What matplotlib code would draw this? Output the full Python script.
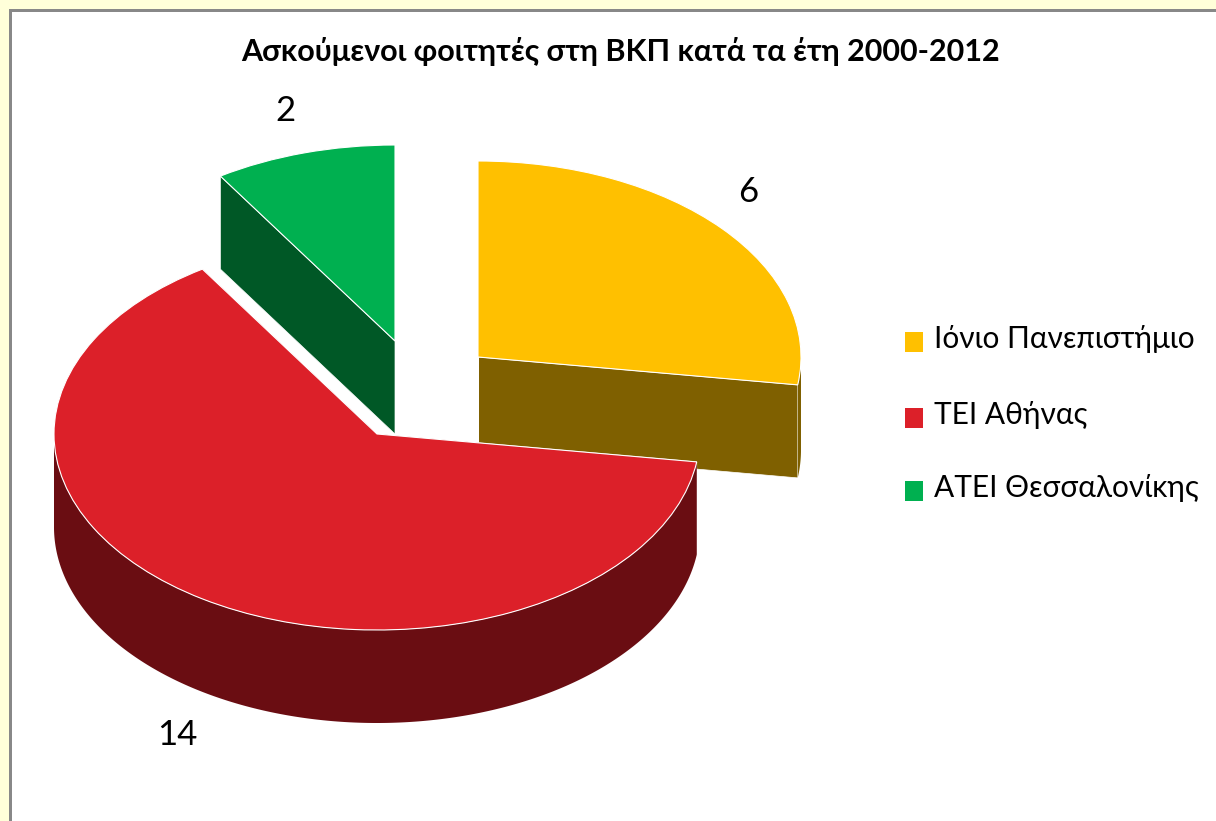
import numpy as np
import matplotlib
matplotlib.use('Agg')
import matplotlib.pyplot as plt
from matplotlib.patches import Rectangle, Polygon

title = 'Ασκούμενοι φοιτητές στη ΒΚΠ κατά τα έτη 2000-2012'
labels = ['Ιόνιο Πανεπιστήμιο', 'ΤΕΙ Αθήνας', 'ΑΤΕΙ Θεσσαλονίκης']
values = [6, 14, 2]
top_colors = ['#FFC000', '#DC2029', '#00B050']
side_colors = ['#7F6000', '#6A0D12', '#005826']

W, H = 1216, 821
RX, RY, DEPTH = 323, 196, 93
# slice centres in pixels, each slice is pulled out by its own amount
centers = [(478, 357), (377, 434), (395, 341)]
label_pos = [(748, 192), (177, 735), (285, 111)]

plt.rcParams['font.family'] = ['Lato', 'Open Sans', 'DejaVu Sans']

fig = plt.figure(figsize=(W / 100, H / 100), dpi=100, facecolor='#FFFFD9')
ax = fig.add_axes([0, 0, 1, 1])


def to_pie(px, py):
    """Pixel position to pie units (radius 1 = one ellipse radius)."""
    return px / RX, -py / RY


# white chart area with the grey frame on top and left
ax.add_patch(Rectangle((9 / RX, -821 / RY), (W - 9) / RX, (821 - 9) / RY,
                       fc='#888888', ec='none', zorder=0))
ax.add_patch(Rectangle((12 / RX, -821 / RY), (W - 12) / RX, (821 - 12) / RY,
                       fc='white', ec='none', zorder=0))

wedges, _ = ax.pie(values, startangle=90, counterclock=False, colors=top_colors,
                   wedgeprops={'edgecolor': 'white', 'linewidth': 0.8})
ax.set_aspect('auto')
ax.axis('off')

depth = DEPTH / RY
for w, c, side in zip(wedges, centers, side_colors):
    cx, cy = to_pie(*c)
    w.set_center((cx, cy))
    w.set_zorder(5)
    # walls: cut faces at both wedge ends, then the outer rim facing the viewer
    for a in (w.theta1, w.theta2):
        ex, ey = cx + np.cos(np.radians(a)), cy + np.sin(np.radians(a))
        wall = [(cx, cy), (ex, ey), (ex, ey - depth), (cx, cy - depth)]
        ax.add_patch(Polygon(wall, closed=True, fc=side, ec='white', lw=0.5, zorder=2))
    ang = np.linspace(w.theta1, w.theta2, 721)
    ang = ang[np.sin(np.radians(ang)) <= 0]
    if len(ang):
        rx_, ry_ = cx + np.cos(np.radians(ang)), cy + np.sin(np.radians(ang))
        rim = np.r_[np.c_[rx_, ry_], np.c_[rx_, ry_ - depth][::-1]]
        ax.add_patch(Polygon(rim, closed=True, fc=side, ec='none', zorder=3))

ax.set_xlim(0, W / RX)
ax.set_ylim(-H / RY, 0)

for val, (px, py) in zip(values, label_pos):
    x, y = to_pie(px, py)
    ax.text(x, y, str(val), fontsize=25, color='black', ha='center', va='center', zorder=6)

x, y = to_pie(620, 51)
ax.text(x, y, title, fontsize=22, fontweight='bold', color='black',
        ha='center', va='center', zorder=6)

legend_y = [342, 418, 491]
for name, col, ly in zip(labels, top_colors, legend_y):
    x, y = to_pie(905, ly + 10)
    ax.add_patch(Rectangle((x, y), 18 / RX, 20 / RY, fc=col, ec='none', zorder=6))
    x, y = to_pie(934, ly - 3)
    ax.text(x, y, name, fontsize=21.5, color='black',
            ha='left', va='center', zorder=6)

fig.savefig('out.png', dpi=100, facecolor=fig.get_facecolor())
